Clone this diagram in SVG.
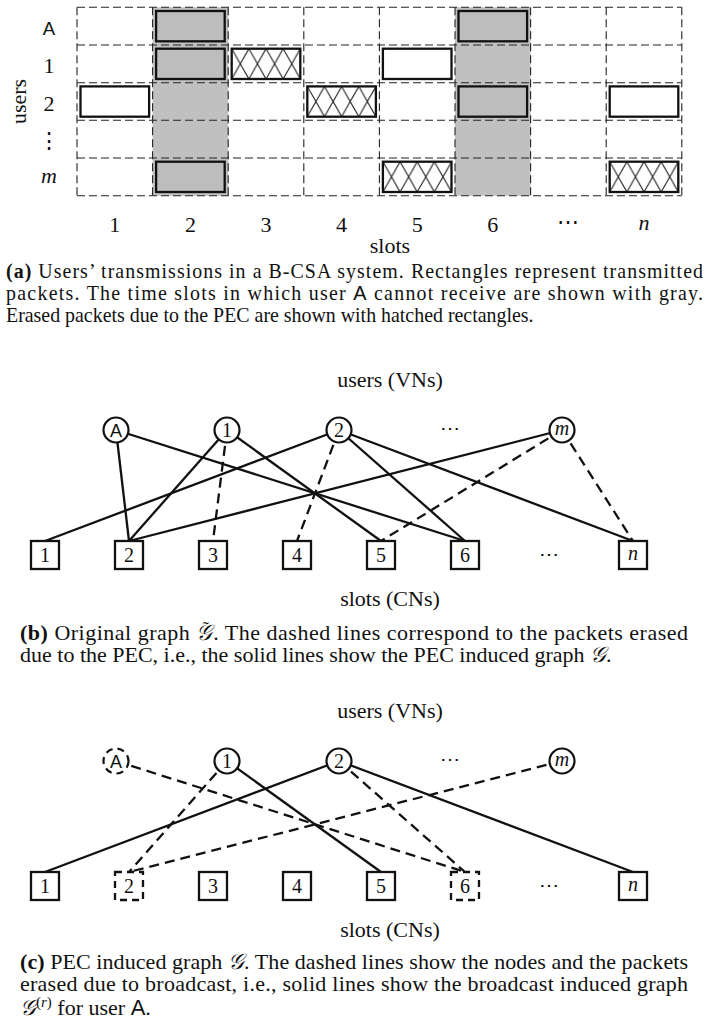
<svg xmlns="http://www.w3.org/2000/svg" width="710" height="1026" viewBox="0 0 710 1026">
  <style>
    .serif { font-family: "Liberation Serif", "DejaVu Serif", serif; fill: #111; }
    .sans { font-family: "Liberation Sans", Arial, sans-serif; fill: #111; }
    .lbl { font-size: 22px; }
    .cap-a { font-size: 19.9px; }
    .cap { font-size: 22px; }
    .it { font-style: italic; }
    .grid { stroke: #222; stroke-width: 1.1; stroke-dasharray: 8 4; fill: none; }
    .shade { fill: #c0c0c0; }
    .pkt { stroke: #111; stroke-width: 2.3; }
    .pkt-gray { fill: #bdbdbd; }
    .pkt-white { fill: #fff; }
    .pkt-hatch { fill: url(#hatch); }
    .edge { stroke: #111; stroke-width: 2.3; fill: none; }
    .edge.dash { stroke-dasharray: 10 6; }
    .vn { fill: #fff; stroke: #111; stroke-width: 2.2; }
    .cn { fill: #fff; stroke: #111; stroke-width: 2.3; }
    .dashnode { stroke-dasharray: 7 5; }
  </style>
  <defs>
    <pattern id="hatch" patternUnits="objectBoundingBox" width="0.25" height="1" patternContentUnits="userSpaceOnUse">
      <rect width="17.2" height="30.3" fill="#fff"/>
      <path d="M0,0 L17.2,30.3 M17.2,0 L0,30.3" stroke="#111" stroke-width="1"/>
    </pattern>
  </defs>

  <!-- ===== (a) slot grid ===== -->
  <g id="slot-grid">
    <rect class="shade" x="152.6" y="7.3" width="75.6" height="188.4"/>
    <rect class="shade" x="455" y="7.3" width="75.6" height="188.4"/>
    <g class="grid">
      <line x1="77" y1="7.3" x2="681.8" y2="7.3"/>
      <line x1="77" y1="45" x2="681.8" y2="45"/>
      <line x1="77" y1="82.7" x2="681.8" y2="82.7"/>
      <line x1="77" y1="120.3" x2="681.8" y2="120.3"/>
      <line x1="77" y1="158" x2="681.8" y2="158"/>
      <line x1="77" y1="195.7" x2="681.8" y2="195.7"/>
      <line x1="77" y1="7.3" x2="77" y2="195.7"/>
      <line x1="152.6" y1="7.3" x2="152.6" y2="195.7"/>
      <line x1="228.2" y1="7.3" x2="228.2" y2="195.7"/>
      <line x1="303.8" y1="7.3" x2="303.8" y2="195.7"/>
      <line x1="379.4" y1="7.3" x2="379.4" y2="195.7"/>
      <line x1="455" y1="7.3" x2="455" y2="195.7"/>
      <line x1="530.6" y1="7.3" x2="530.6" y2="195.7"/>
      <line x1="606.2" y1="7.3" x2="606.2" y2="195.7"/>
      <line x1="681.8" y1="7.3" x2="681.8" y2="195.7"/>
    </g>
  </g>

  <g id="packets">
    <!-- user A -->
    <rect class="pkt pkt-gray" x="156.1" y="11" width="68.6" height="30.3"/>
    <rect class="pkt pkt-gray" x="458.5" y="11" width="68.6" height="30.3"/>
    <!-- user 1 -->
    <rect class="pkt pkt-gray" x="156.1" y="48.7" width="68.6" height="30.3"/>
    <rect class="pkt pkt-hatch" x="231.7" y="48.7" width="68.6" height="30.3"/>
    <rect class="pkt pkt-white" x="382.9" y="48.7" width="68.6" height="30.3"/>
    <!-- user 2 -->
    <rect class="pkt pkt-white" x="80.5" y="86.4" width="68.6" height="30.3"/>
    <rect class="pkt pkt-hatch" x="307.3" y="86.4" width="68.6" height="30.3"/>
    <rect class="pkt pkt-gray" x="458.5" y="86.4" width="68.6" height="30.3"/>
    <rect class="pkt pkt-white" x="609.7" y="86.4" width="68.6" height="30.3"/>
    <!-- user m -->
    <rect class="pkt pkt-gray" x="156.1" y="161.7" width="68.6" height="30.3"/>
    <rect class="pkt pkt-hatch" x="382.9" y="161.7" width="68.6" height="30.3"/>
    <rect class="pkt pkt-hatch" x="609.7" y="161.7" width="68.6" height="30.3"/>
  </g>

  <g id="grid-labels" class="lbl" text-anchor="middle">
    <text class="sans" x="49" y="35" font-size="18.6">A</text>
    <text class="serif" x="49" y="73">1</text>
    <text class="serif" x="49" y="110.5">2</text>
    <text class="serif" x="49" y="148">⋮</text>
    <text class="serif it" x="49" y="183">m</text>
    <text class="serif" transform="translate(26,101.5) rotate(-90)">users</text>
    <text class="serif" x="114.8" y="232">1</text>
    <text class="serif" x="190.4" y="232">2</text>
    <text class="serif" x="266" y="232">3</text>
    <text class="serif" x="341.6" y="232">4</text>
    <text class="serif" x="417.2" y="232">5</text>
    <text class="serif" x="492.8" y="232">6</text>
    <text class="serif" x="568.4" y="229">⋯</text>
    <text class="serif it" x="644" y="230">n</text>
    <text class="serif" x="390" y="253">slots</text>
  </g>

  <g id="caption-a" class="serif cap-a">
    <text x="6" y="277.5" textLength="697" lengthAdjust="spacing"><tspan font-weight="bold">(a)</tspan> Users’ transmissions in a B-CSA system. Rectangles represent transmitted</text>
    <text x="6" y="299.5" textLength="697" lengthAdjust="spacing">packets. The time slots in which user <tspan class="sans">A</tspan> cannot receive are shown with gray.</text>
    <text x="6" y="321.5">Erased packets due to the PEC are shown with hatched rectangles.</text>
  </g>

  <!-- ===== (b) original graph ===== -->
  <g id="b-titles" class="serif lbl" text-anchor="middle">
    <text x="390" y="387">users (VNs)</text>
    <text x="390" y="606">slots (CNs)</text>
  </g>

  <g id="b-connectors">
    <line class="edge" x1="116" y1="430" x2="129" y2="541"/>
    <line class="edge" x1="116" y1="430" x2="465" y2="541"/>
    <line class="edge" x1="227" y1="430" x2="129" y2="541"/>
    <line class="edge dash" x1="227" y1="430" x2="213" y2="541"/>
    <line class="edge" x1="227" y1="430" x2="381" y2="541"/>
    <line class="edge" x1="339" y1="430" x2="45" y2="541"/>
    <line class="edge dash" x1="339" y1="430" x2="297" y2="541"/>
    <line class="edge" x1="339" y1="430" x2="465" y2="541"/>
    <line class="edge" x1="339" y1="430" x2="633" y2="541"/>
    <line class="edge" x1="562" y1="430" x2="129" y2="541"/>
    <line class="edge dash" x1="562" y1="430" x2="381" y2="541"/>
    <line class="edge dash" x1="562" y1="430" x2="633" y2="541"/>
  </g>

  <g id="b-vn-A"><circle class="vn" cx="116" cy="430" r="12.5"/><text class="sans" x="116" y="436.5" font-size="18" text-anchor="middle">A</text></g>
  <g id="b-vn-1"><circle class="vn" cx="227" cy="430" r="12.5"/><text class="serif" x="227" y="437" font-size="20" text-anchor="middle">1</text></g>
  <g id="b-vn-2"><circle class="vn" cx="339" cy="430" r="12.5"/><text class="serif" x="339" y="437" font-size="20" text-anchor="middle">2</text></g>
  <g id="b-vn-dots"><text class="serif" x="450" y="435" font-size="20" text-anchor="middle">⋯</text></g>
  <g id="b-vn-m"><circle class="vn" cx="562" cy="430" r="12.5"/><text class="serif it" x="562" y="435" font-size="20" text-anchor="middle">m</text></g>

  <g id="b-cn-1"><rect class="cn" x="31" y="541" width="28" height="28"/><text class="serif" x="45" y="562" font-size="20" text-anchor="middle">1</text></g>
  <g id="b-cn-2"><rect class="cn" x="115" y="541" width="28" height="28"/><text class="serif" x="129" y="562" font-size="20" text-anchor="middle">2</text></g>
  <g id="b-cn-3"><rect class="cn" x="199" y="541" width="28" height="28"/><text class="serif" x="213" y="562" font-size="20" text-anchor="middle">3</text></g>
  <g id="b-cn-4"><rect class="cn" x="283" y="541" width="28" height="28"/><text class="serif" x="297" y="562" font-size="20" text-anchor="middle">4</text></g>
  <g id="b-cn-5"><rect class="cn" x="367" y="541" width="28" height="28"/><text class="serif" x="381" y="562" font-size="20" text-anchor="middle">5</text></g>
  <g id="b-cn-6"><rect class="cn" x="451" y="541" width="28" height="28"/><text class="serif" x="465" y="562" font-size="20" text-anchor="middle">6</text></g>
  <g id="b-cn-dots"><text class="serif" x="549" y="561" font-size="20" text-anchor="middle">⋯</text></g>
  <g id="b-cn-n"><rect class="cn" x="619" y="541" width="28" height="28"/><text class="serif it" x="633" y="560" font-size="20" text-anchor="middle">n</text></g>

  <g id="caption-b" class="serif cap">
    <text x="20" y="640" textLength="668" lengthAdjust="spacing"><tspan font-weight="bold">(b)</tspan> Original graph <tspan class="it">𝒢</tspan><tspan dx="-10" dy="-5" font-size="18">˜</tspan><tspan dx="4" dy="5">. The dashed lines correspond to the packets erased</tspan></text>
    <text x="20" y="662">due to the PEC, i.e., the solid lines show the PEC induced graph <tspan class="it">𝒢</tspan>.</text>
  </g>

  <!-- ===== (c) PEC induced graph ===== -->
  <g id="c-titles" class="serif lbl" text-anchor="middle">
    <text x="390" y="718">users (VNs)</text>
    <text x="390" y="937">slots (CNs)</text>
  </g>

  <g id="c-connectors">
    <line class="edge dash" x1="116" y1="761" x2="465" y2="872"/>
    <line class="edge dash" x1="227" y1="761" x2="129" y2="872"/>
    <line class="edge" x1="227" y1="761" x2="381" y2="872"/>
    <line class="edge" x1="339" y1="761" x2="45" y2="872"/>
    <line class="edge dash" x1="339" y1="761" x2="465" y2="872"/>
    <line class="edge" x1="339" y1="761" x2="633" y2="872"/>
    <line class="edge dash" x1="562" y1="761" x2="129" y2="872"/>
  </g>

  <g id="c-vn-A"><circle class="vn dashnode" cx="116" cy="761" r="12.5"/><text class="sans" x="116" y="767.5" font-size="18" text-anchor="middle">A</text></g>
  <g id="c-vn-1"><circle class="vn" cx="227" cy="761" r="12.5"/><text class="serif" x="227" y="768" font-size="20" text-anchor="middle">1</text></g>
  <g id="c-vn-2"><circle class="vn" cx="339" cy="761" r="12.5"/><text class="serif" x="339" y="768" font-size="20" text-anchor="middle">2</text></g>
  <g id="c-vn-dots"><text class="serif" x="450" y="766" font-size="20" text-anchor="middle">⋯</text></g>
  <g id="c-vn-m"><circle class="vn" cx="562" cy="761" r="12.5"/><text class="serif it" x="562" y="766" font-size="20" text-anchor="middle">m</text></g>

  <g id="c-cn-1"><rect class="cn" x="31" y="872" width="28" height="28"/><text class="serif" x="45" y="893" font-size="20" text-anchor="middle">1</text></g>
  <g id="c-cn-2"><rect class="cn dashnode" x="115" y="872" width="28" height="28"/><text class="serif" x="129" y="893" font-size="20" text-anchor="middle">2</text></g>
  <g id="c-cn-3"><rect class="cn" x="199" y="872" width="28" height="28"/><text class="serif" x="213" y="893" font-size="20" text-anchor="middle">3</text></g>
  <g id="c-cn-4"><rect class="cn" x="283" y="872" width="28" height="28"/><text class="serif" x="297" y="893" font-size="20" text-anchor="middle">4</text></g>
  <g id="c-cn-5"><rect class="cn" x="367" y="872" width="28" height="28"/><text class="serif" x="381" y="893" font-size="20" text-anchor="middle">5</text></g>
  <g id="c-cn-6"><rect class="cn dashnode" x="451" y="872" width="28" height="28"/><text class="serif" x="465" y="893" font-size="20" text-anchor="middle">6</text></g>
  <g id="c-cn-dots"><text class="serif" x="549" y="892" font-size="20" text-anchor="middle">⋯</text></g>
  <g id="c-cn-n"><rect class="cn" x="619" y="872" width="28" height="28"/><text class="serif it" x="633" y="891" font-size="20" text-anchor="middle">n</text></g>

  <g id="caption-c" class="serif cap">
    <text x="20" y="969" textLength="668" lengthAdjust="spacing"><tspan font-weight="bold">(c)</tspan> PEC induced graph <tspan class="it">𝒢</tspan>. The dashed lines show the nodes and the packets</text>
    <text x="20" y="991" textLength="668" lengthAdjust="spacing">erased due to broadcast, i.e., solid lines show the broadcast induced graph</text>
    <text x="20" y="1015"><tspan class="it">𝒢</tspan><tspan font-size="15" dy="-8">(<tspan class="it">r</tspan>)</tspan><tspan dy="8"> for user </tspan><tspan class="sans">A</tspan>.</text>
  </g>
</svg>
